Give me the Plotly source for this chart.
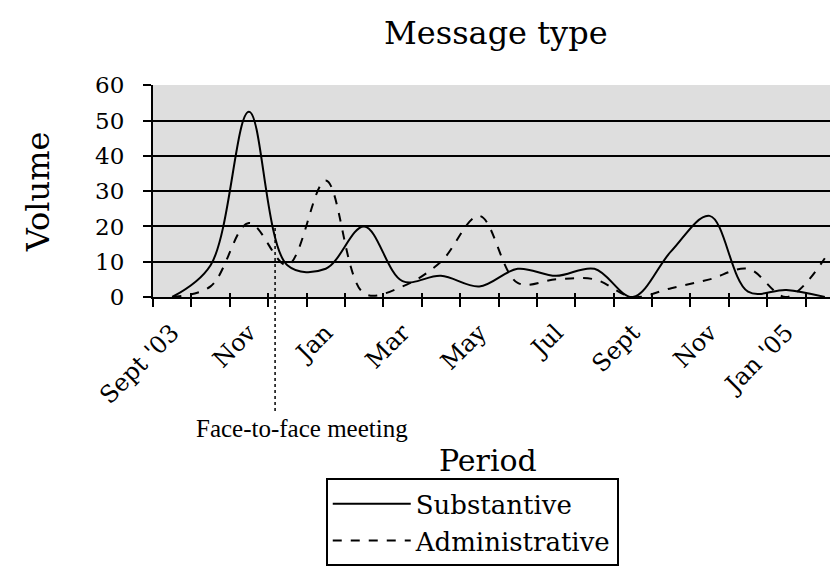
import numpy as np
import plotly.graph_objects as go

months = ["Sept '03", "Oct", "Nov", "Dec", "Jan", "Feb", "Mar", "Apr", "May",
          "Jun", "Jul", "Aug", "Sept", "Oct", "Nov", "Dec", "Jan '05", "Feb"]
substantive = [0, 9, 52.5, 9, 8, 20, 4.5, 6, 3, 8, 6, 8, 0, 13, 23, 1.5, 2, 0]
administrative = [0, 3, 21, 9, 33, 1, 3, 10, 23, 4, 5, 5, 0, 2.5, 5, 8, 0, 11]
tick_label_idx = list(range(0, 18, 2))
y_ticks = [0, 10, 20, 30, 40, 50, 60]
meeting_x = 2.68
meeting_label = "Face-to-face meeting"

x = np.arange(len(months))
bounds = np.arange(len(months) + 1) - 0.5

SERIF_W = "DejaVu Serif"
SERIF_T = "Liberation Serif"

fig = go.Figure()
fig.add_trace(go.Scatter(x=x, y=substantive, mode="lines", name="Substantive",
                         line=dict(color="black", width=2, shape="spline", smoothing=1)))
fig.add_trace(go.Scatter(x=x, y=administrative, mode="lines", name="Administrative",
                         line=dict(color="black", width=2, dash="dash", shape="spline", smoothing=1)))
# dummy traces for tick-mark overlay axes
for ax in ["x2", "x3"]:
    fig.add_trace(go.Scatter(x=bounds, y=[0] * len(bounds), xaxis=ax, mode="lines",
                             line=dict(width=0), showlegend=False, hoverinfo="skip"))

xr = [-0.5, 17.5]
fig.update_layout(
    width=838, height=574,
    margin=dict(l=145, r=2, t=77, b=285, autoexpand=False),
    paper_bgcolor="white", plot_bgcolor="#dedede",
    showlegend=True,
    xaxis=dict(range=xr, tickmode="array", tickvals=[x[i] for i in tick_label_idx],
               ticktext=[months[i] for i in tick_label_idx], tickangle=-45,
               ticks="", showgrid=False, zeroline=False, showline=True,
               linecolor="black", linewidth=2, ticklabelstandoff=10,
               tickfont=dict(family=SERIF_W, size=24, color="black")),
    xaxis2=dict(range=xr, overlaying="x", anchor="y", tickmode="array", tickvals=bounds,
                ticks="outside", ticklen=9, tickwidth=2, tickcolor="black",
                showticklabels=False, showgrid=False, zeroline=False, showline=False),
    xaxis3=dict(range=xr, overlaying="x", anchor="y", tickmode="array", tickvals=bounds,
                ticks="inside", ticklen=4, tickwidth=2, tickcolor="black",
                showticklabels=False, showgrid=False, zeroline=False, showline=False),
    yaxis=dict(range=[0, 60.1], tickmode="array", tickvals=y_ticks,
               ticks="outside", ticklen=8, tickwidth=2, tickcolor="black",
               showgrid=True, gridcolor="black", gridwidth=2, zeroline=False,
               showline=True, linecolor="black", linewidth=2, ticklabelstandoff=14,
               tickfont=dict(family=SERIF_W, size=23, color="black")),
    legend=dict(x=0.25, xanchor="left", y=-0.855, yanchor="top",
                bgcolor="white", bordercolor="black", borderwidth=2,
                font=dict(family=SERIF_W, size=26, color="black"),
                itemwidth=78, tracegroupgap=0),
)

fig.add_shape(type="line", xref="x", yref="paper", x0=meeting_x, x1=meeting_x,
              y0=0.325, y1=-0.547, line=dict(color="black", width=1.5, dash="dot"))

fig.add_annotation(text=meeting_label, xref="paper", yref="paper", x=0.2154, y=-0.618,
                   showarrow=False, xanchor="center", yanchor="middle",
                   font=dict(family=SERIF_T, size=25, color="black"))
fig.add_annotation(text="Period", xref="paper", yref="paper", x=0.4843, y=-0.772,
                   showarrow=False, xanchor="center", yanchor="middle",
                   font=dict(family=SERIF_W, size=30, color="black"))
fig.add_annotation(text="Volume", xref="paper", yref="paper", x=-0.1663, y=0.495,
                   showarrow=False, xanchor="center", yanchor="middle", textangle=-90,
                   font=dict(family=SERIF_W, size=32, color="black"))
fig.add_annotation(text="Message type", xref="paper", yref="paper", x=0.4957, y=1.245,
                   showarrow=False, xanchor="center", yanchor="middle",
                   font=dict(family=SERIF_W, size=32, color="black"))

fig.write_html("out.html")
